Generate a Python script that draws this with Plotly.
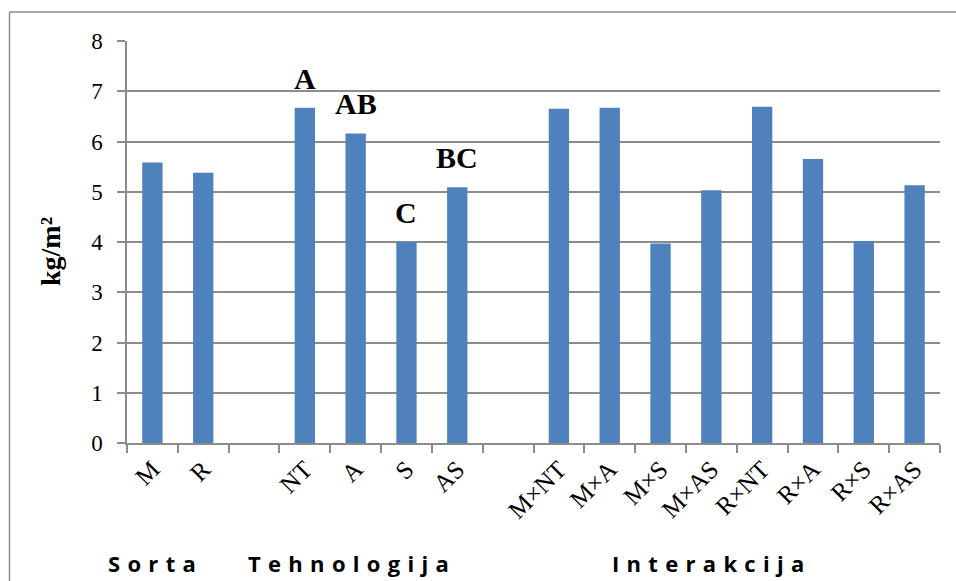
import plotly.graph_objects as go

categories = ["M", "R", " ", "NT", "A", "S", "AS", "  ",
              "M×NT", "M×A", "M×S", "M×AS", "R×NT", "R×A", "R×S", "R×AS"]
values = [5.58, 5.38, None, 6.67, 6.16, 4.00, 5.09, None,
          6.65, 6.67, 3.97, 5.03, 6.69, 5.65, 4.02, 5.13]
letters = {"NT": "A", "A": "AB", "S": "C", "AS": "BC"}
y_ticks = [0, 1, 2, 3, 4, 5, 6, 7, 8]
group_labels = [("Sorta", 151.5), ("Tehnologija", 348.5), ("Interakcija", 707.5)]

W, H = 956, 581
L, T = 127, 41
R = W - 940
B = H - 443
pw = W - L - R
ph = H - T - B

def px_x(p):
    return (p - L) / pw

def px_y(p):
    return (H - B - p) / ph

fig = go.Figure()
fig.add_trace(go.Bar(
    x=categories, y=values,
    marker=dict(color="#4F81BD", line=dict(width=0)),
    width=0.4,
))

annotations = []
for cat, txt in letters.items():
    v = values[categories.index(cat)]
    annotations.append(dict(
        x=cat, y=v, xref="x", yref="y", text="<b>" + txt + "</b>", showarrow=False,
        yanchor="bottom", yshift=11,
        font=dict(family="Liberation Serif", size=30, color="black"),
    ))

def spaced(s):
    return "\u2009\u2009".join(s)

for name, px in group_labels:
    annotations.append(dict(
        x=px_x(px), y=px_y(563), xref="paper", yref="paper",
        text="<b>" + spaced(name) + "</b>", showarrow=False,
        xanchor="center", yanchor="middle",
        font=dict(family="Open Sans", size=22, color="black"),
    ))

annotations.append(dict(
    x=px_x(50), y=px_y(252), xref="paper", yref="paper",
    text="<b>kg/m²</b>", showarrow=False, textangle=-90,
    xanchor="center", yanchor="middle",
    font=dict(family="Liberation Serif", size=28, color="black"),
))

border = dict(color="#8C8C8C", width=1.5)
fig.update_layout(
    width=W, height=H,
    margin=dict(l=L, r=R, t=T, b=B),
    paper_bgcolor="white", plot_bgcolor="white",
    showlegend=False,
    annotations=annotations,
    xaxis=dict(
        type="category", categoryorder="array", categoryarray=categories,
        showgrid=False, showline=True, linecolor="#8C8C8C", linewidth=1.5,
        ticks="outside", tickson="boundaries", ticklen=8, tickcolor="#8C8C8C", tickwidth=1.5,
        tickangle=-45,
        tickfont=dict(family="Liberation Serif", size=25, color="black"),
        range=[-0.5, len(categories) - 0.5],
    ),
    yaxis=dict(
        range=[0, 8], tickvals=y_ticks,
        showgrid=True, gridcolor="#8C8C8C", gridwidth=1.5,
        showline=True, linecolor="#8C8C8C", linewidth=1.5,
        ticks="outside", ticklen=8, tickcolor="#8C8C8C", tickwidth=1.5,
        ticklabelstandoff=10,
        tickfont=dict(family="Liberation Serif", size=23, color="black"),
        zeroline=False,
    ),
    shapes=[
        dict(type="line", xref="paper", yref="paper",
             x0=px_x(9.5), x1=px_x(W), y0=px_y(12), y1=px_y(12),
             line=border, layer="below"),
        dict(type="line", xref="paper", yref="paper",
             x0=px_x(9.5), x1=px_x(9.5), y0=px_y(12), y1=px_y(H),
             line=border, layer="below"),
    ],
)

fig.write_html(
    "out.html",
    config={"displayModeBar": False},
    post_script="document.body.style.margin='0';document.body.style.overflow='hidden';",
)
